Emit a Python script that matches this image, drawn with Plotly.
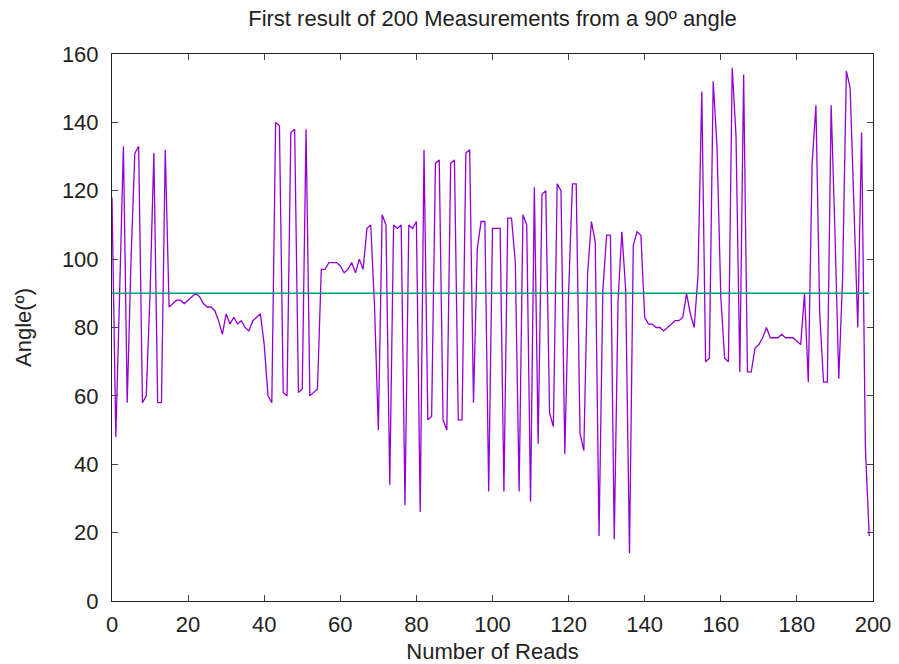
import plotly.graph_objects as go

reads = list(range(200))
angles = [
    118, 48, 90, 133, 58, 100, 131, 133, 58, 60,
    90, 131, 58, 58, 132, 86, 87, 88, 88, 87,
    88, 89, 90, 89, 87, 86, 86, 85, 82, 78,
    84, 81, 83, 81, 82, 80, 79, 82, 83, 84,
    75, 60, 58, 140, 139, 61, 60, 137, 138, 61,
    62, 138, 60, 61, 62, 97, 97, 99, 99, 99,
    98, 96, 97, 99, 96, 100, 97, 109, 110, 86,
    50, 113, 110, 34, 110, 109, 110, 28, 110, 109,
    111, 26, 132, 53, 54, 128, 129, 53, 50, 128,
    129, 53, 53, 131, 132, 58, 103, 111, 111, 32,
    109, 109, 109, 32, 112, 112, 99, 32, 113, 110,
    29, 121, 46, 119, 120, 55, 51, 122, 120, 43,
    90, 122, 122, 49, 44, 96, 111, 105, 19, 91,
    107, 107, 18, 88, 108, 91, 14, 104, 108, 107,
    83, 81, 81, 80, 80, 79, 80, 81, 82, 82,
    83, 90, 84, 80, 95, 149, 70, 71, 152, 133,
    89, 71, 70, 156, 136, 67, 154, 67, 67, 74,
    75, 77, 80, 77, 77, 77, 78, 77, 77, 77,
    76, 75, 90, 64, 128, 145, 84, 64, 64, 145,
    108, 65, 94, 155, 150, 116, 80, 137, 45, 19,
]
reference = [90] * 200

x_ticks = list(range(0, 201, 20))
y_ticks = list(range(0, 161, 20))

fig = go.Figure()
fig.add_trace(go.Scatter(x=reads, y=angles, mode="lines",
                         line=dict(color="#9400d3", width=1.3), showlegend=False))
fig.add_trace(go.Scatter(x=reads, y=reference, mode="lines",
                         line=dict(color="#009e73", width=1.5), showlegend=False))

font = "Liberation Sans, Arial, sans-serif"
fig.update_layout(
    width=899, height=664,
    margin=dict(l=112, r=26, t=54, b=63, autoexpand=False),
    paper_bgcolor="white", plot_bgcolor="white",
    font=dict(family=font, size=22, color="#222"),
    title=dict(text="First result of 200 Measurements from a 90º angle",
               x=0.5, xref="paper", y=0.984, yanchor="top",
               font=dict(size=22, family=font, color="#222")),
)
fig.update_xaxes(
    range=[0, 200], tickvals=x_ticks, ticks="inside", ticklen=6,
    showline=True, linecolor="#222", linewidth=1, mirror="ticks",
    showgrid=False, zeroline=False, ticklabelstandoff=4, automargin=False,
    tickfont=dict(size=22),
    title=dict(text="Number of Reads", standoff=13, font=dict(size=22)),
)
fig.update_yaxes(
    range=[0, 160], tickvals=y_ticks, ticks="inside", ticklen=6,
    showline=True, linecolor="#222", linewidth=1, mirror="ticks",
    showgrid=False, zeroline=False, ticklabelstandoff=8, automargin=False,
    tickfont=dict(size=22),
    title=dict(text="Angle(º)", standoff=24, font=dict(size=22)),
)
fig.write_html("out.html")
